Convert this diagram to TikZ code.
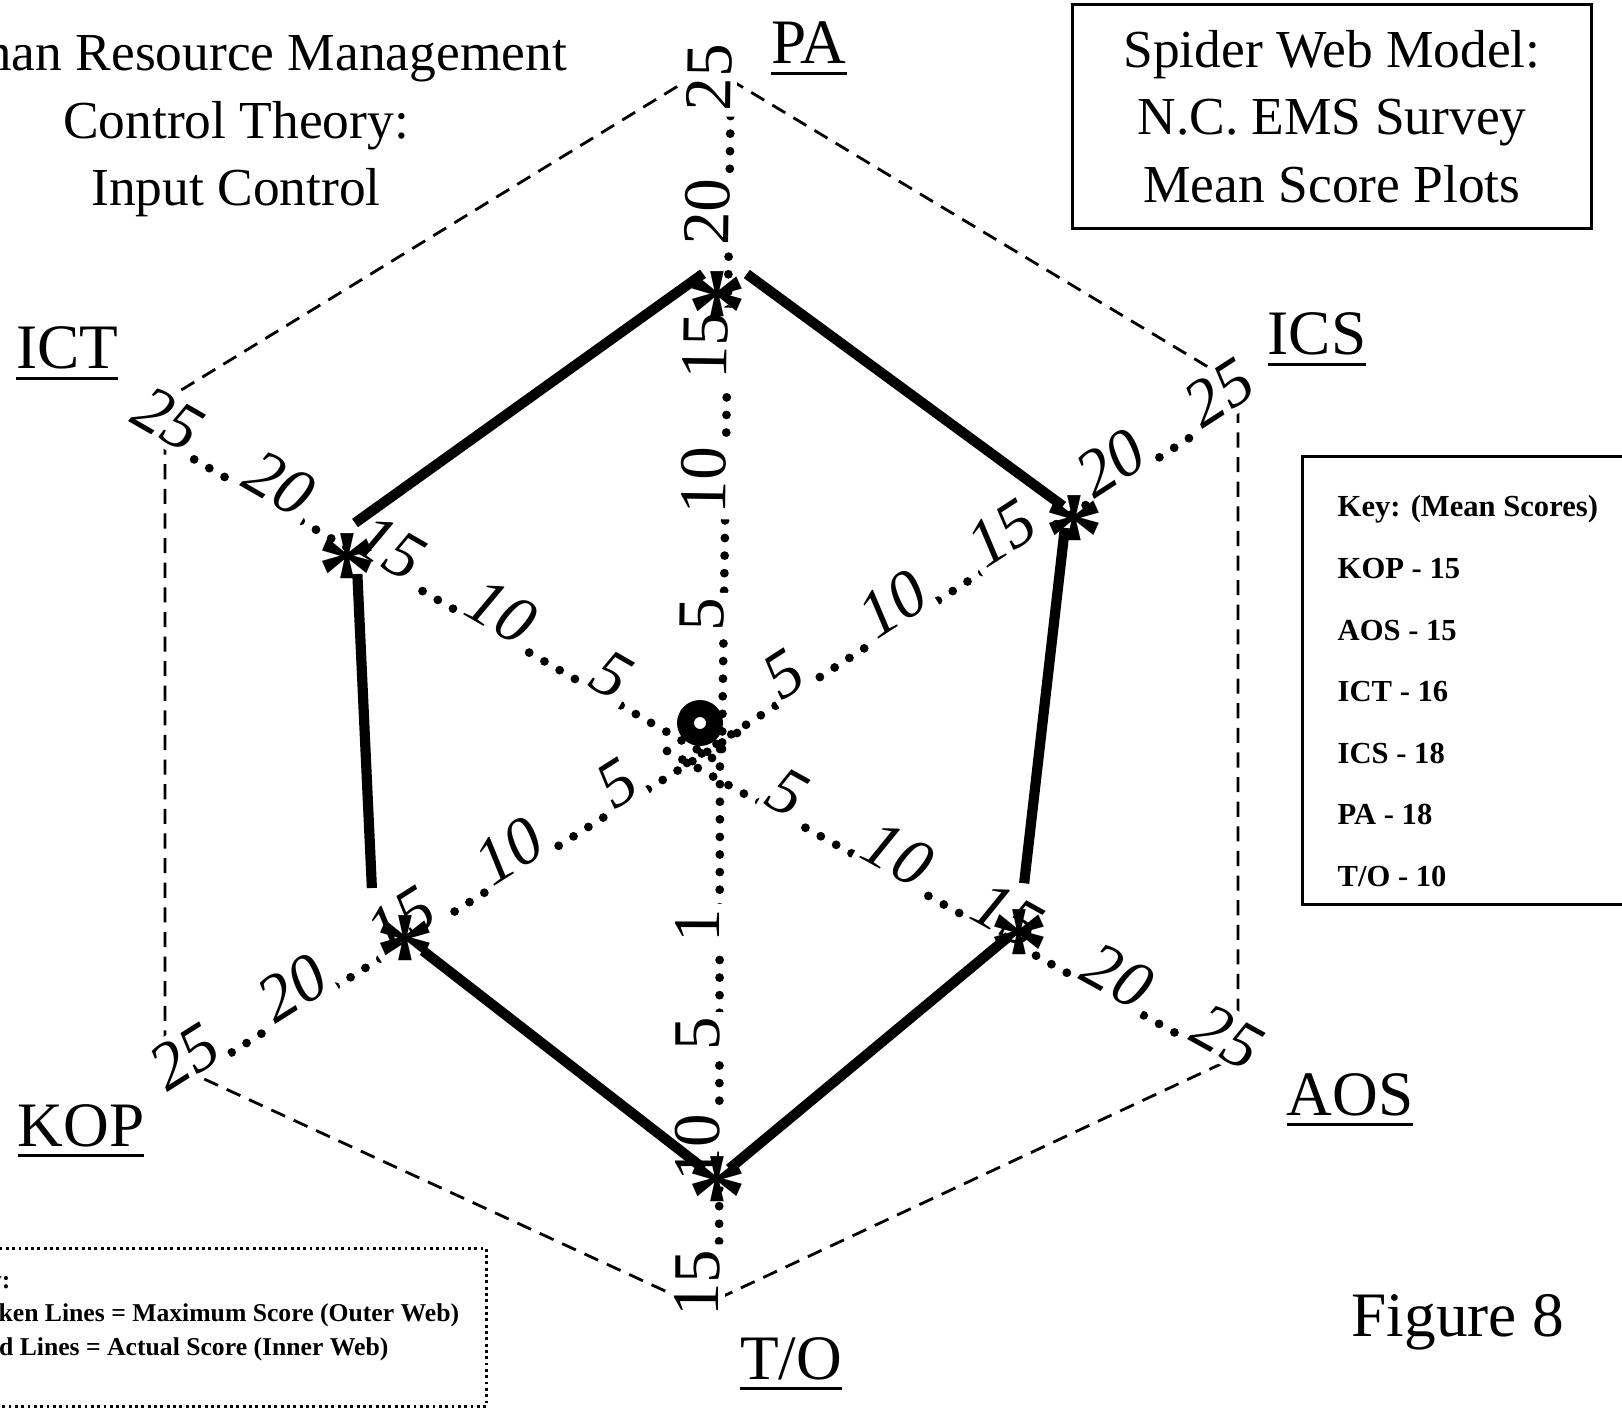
\documentclass[tikz,border=0pt]{standalone}
\usepackage{fontspec}
\setmainfont{Liberation Serif}
\newcommand{\axisname}[1]{\setbox0=\hbox{#1}\leavevmode\rlap{\rule[-3pt]{\wd0}{0.8pt}}\box0}

\begin{document}
\begin{tikzpicture}[x=0.01cm, y=-0.01cm,
  outerweb/.style={dash pattern=on 4.3pt off 2.7pt, line width=0.8pt},
  axisline/.style={line width=2.5pt, dash pattern=on 0pt off 5pt, line cap=round},
  tick/.style={sloped, anchor=base, fill=white, inner sep=1.5pt, font=\fontsize{19}{19}\selectfont#1},
  tick/.default=\upshape,
  web/.style={line width=2.9pt},
  score/.style={inner sep=0pt, font=\fontsize{34}{34}\selectfont\bfseries},
  axname/.style={anchor=base, inner sep=0pt, font=\fontsize{18}{20}\selectfont},
  heading/.style={align=center, inner sep=0pt, font=\fontsize{15.2}{19.2}\selectfont},
  keyline/.style={anchor=base west, inner sep=0pt, font=\fontsize{8.7}{10}\selectfont\bfseries},
  legline/.style={anchor=base west, inner sep=0pt, font=\fontsize{7.3}{9}\selectfont\bfseries}]

\useasboundingbox (0,0) rectangle (1622,1413);

% outer web = maximum score
\coordinate (vPA)  at (709,67);
\coordinate (vICS) at (1238,385);
\coordinate (vAOS) at (1238,1056);
\coordinate (vTO)  at (700,1307);
\coordinate (vKOP) at (165,1061);
\coordinate (vICT) at (165,400);
\draw[outerweb] (vPA) -- (vICS) -- (vAOS) -- (vTO) -- (vKOP) -- (vICT) -- cycle;

% dotted axes with their scales
\coordinate (pa-s)  at (722,749);  \coordinate (pa-t)  at (731,78);
\coordinate (ics-s) at (687,763);  \coordinate (ics-t) at (1231,411);
\coordinate (aos-s) at (667,751);  \coordinate (aos-t) at (1217,1056);
\coordinate (kop-s) at (737,733);  \coordinate (kop-t) at (196,1075);
\coordinate (ict-s) at (712,758);  \coordinate (ict-t) at (157,438);
\coordinate (to-s)  at (720,749);  \coordinate (to-t)  at (719,1283);
\foreach \ax/\sh in {pa/\upshape,ics/\itshape,aos/\itshape,kop/\itshape,ict/\itshape}
  \draw[axisline] (\ax-s) -- (\ax-t)
    foreach \k in {5,10,...,25} {node[tick=\sh, pos=\k/25] (\ax\k) {\k}};
\draw[axisline] (to-s) -- (to-t)
  foreach \k/\p in {1/0.331,5/0.534,10/0.747,15/1} {node[tick, pos=\p] (to\k) {\k}};

\node[circle, draw, line width=4.8pt, minimum size=0.29cm, inner sep=0pt] (hub) at (700,723) {};

% inner web = actual score
\coordinate (wPA)  at (725,258);
\coordinate (wICS) at (1067,509);
\coordinate (wAOS) at (1019,928);
\coordinate (wTO)  at (717,1179);
\coordinate (wKOP) at (373,912);
\coordinate (wICT) at (355,523);
\foreach \a/\b/\s/\e in {wPA/wICS/0.27/0.05, wICS/wAOS/0.19/0.45, wAOS/wTO/0.13/0.16,
                         wTO/wKOP/0.17/0.63, wKOP/wICT/0.24/0.51, wICT/wPA/0/0.27}
  \draw[web, shorten <=\s cm, shorten >=\e cm] (\a) -- (\b);

\node[score] (sPA)  at (717,293)  {\raisebox{-0.48em}[0pt][0pt]{*}};
\node[score] (sICS) at (1074,517) {\raisebox{-0.48em}[0pt][0pt]{*}};
\node[score] (sAOS) at (1019,931) {\raisebox{-0.48em}[0pt][0pt]{*}};
\node[score] (sTO)  at (717,1178) {\raisebox{-0.48em}[0pt][0pt]{*}};
\node[score] (sKOP) at (405,937)  {\raisebox{-0.48em}[0pt][0pt]{*}};
\node[score] (sICT) at (347,555)  {\raisebox{-0.48em}[0pt][0pt]{*}};

% axis names
\node[axname] (nPA)  at (809,64)   {\axisname{PA}};
\node[axname] (nICS) at (1317,355) {\axisname{ICS}};
\node[axname] (nICT) at (67,369)   {\axisname{ICT}};
\node[axname] (nKOP) at (81,1146)  {\axisname{KOP}};
\node[axname] (nAOS) at (1350,1115) {\axisname{AOS}};
\node[axname] (nTO)  at (791,1379) {\axisname{T/O}};
\node[axname] (fig)  at (1458,1336) {Figure 8};

% titles
\node[heading, anchor=north] (hrm) at (236,35)
  {Human Resource Management\\Control Theory:\\Input Control};
\node[heading, draw, line width=0.85pt, minimum width=5.18cm, minimum height=2.23cm] (spider)
  at (1332,116.5) {Spider Web Model:\\N.C. EMS Survey\\Mean Score Plots};

% key of mean scores
\node[draw, line width=0.85pt, anchor=north west, minimum width=3.8cm, minimum height=4.48cm] (keybox)
  at (1301,455) {};
\foreach \t [count=\i from 0] in {{Key: (Mean Scores)},{KOP - 15},{AOS - 15},{ICT - 16},{ICS - 18},{PA - 18},{T/O - 10}}
  \node[keyline] (key\i) at (1337,517+61.5*\i) {\t};

% legend of line styles
\node[draw, densely dotted, line width=0.8pt, anchor=north east, minimum width=5.6cm, minimum height=1.58cm] (legbox)
  at (488,1247) {};
\node[legline] (leg1) at (-43,1288) {Key:};
\node[legline] (leg2) at (-43,1321) {Broken Lines = Maximum Score (Outer Web)};
\node[legline] (leg3) at (-43,1355) {Solid Lines = Actual Score (Inner Web)};
\end{tikzpicture}
\end{document}
